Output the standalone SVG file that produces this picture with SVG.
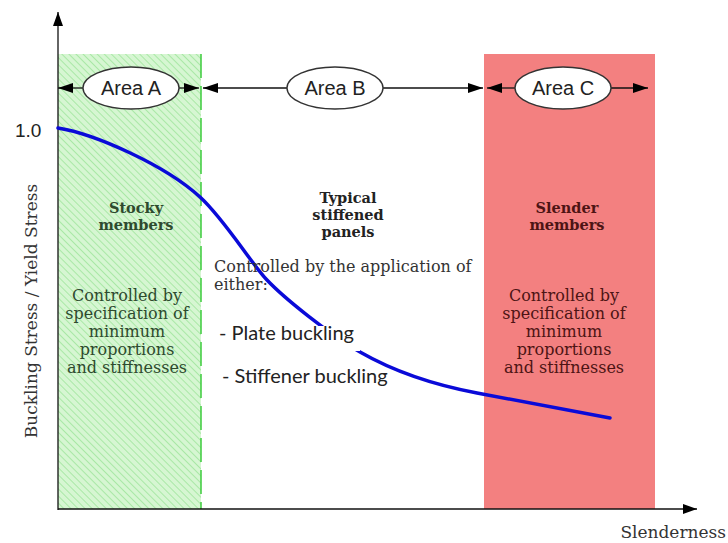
<svg xmlns="http://www.w3.org/2000/svg" width="728" height="543" viewBox="0 0 728 543">
<defs>
<pattern id="hatch" patternUnits="userSpaceOnUse" width="5" height="5" patternTransform="rotate(-45)">
<rect width="5" height="5" fill="#d6f6d2"/>
<line x1="0" y1="0" x2="0" y2="5" stroke="#a9e8a6" stroke-width="2"/>
</pattern>
<marker id="ah" viewBox="0 0 15 10" refX="15" refY="5" markerWidth="15" markerHeight="10" markerUnits="userSpaceOnUse" orient="auto">
<path d="M0,0 L15,5 L0,10 Z" fill="#000"/>
</marker>
<marker id="axh" viewBox="0 0 14 10" refX="14" refY="5" markerWidth="14" markerHeight="10" markerUnits="userSpaceOnUse" orient="auto">
<path d="M0,0 L14,5 L0,10 Z" fill="#000"/>
</marker>
</defs>
<style>
.ser{font-family:"DejaVu Serif","Liberation Serif",serif;font-size:16px;}
.b{font-weight:bold;font-size:14.5px;}
.area{font-family:"Liberation Sans",Arial,sans-serif;font-size:20px;fill:#222;}
.ell{fill:#fff;stroke:#333;stroke-width:1.4;}
.sans{font-family:Lato,"Open Sans",sans-serif;font-size:20px;fill:#222;}
.conn{stroke:#111;stroke-width:1.3;fill:none;}
.g{fill:#2e4a2e;}
.r{fill:#4d1414;}
</style>
<rect width="728" height="543" fill="#fff"/>
<g id="zoneA">
<rect x="58" y="54" width="143" height="455" fill="url(#hatch)"/>
<line x1="201" y1="54" x2="201" y2="509" stroke="#3ccc3c" stroke-width="1.5" stroke-dasharray="24,8"/>
</g>
<g id="zoneC">
<rect x="484" y="54" width="171" height="455" fill="#f38080"/>
</g>
<g id="axes">
<line x1="58" y1="510" x2="58" y2="12" class="conn" marker-end="url(#axh)"/>
<line x1="58" y1="509" x2="697" y2="509" class="conn" marker-end="url(#axh)"/>
<text x="15" y="137" font-family="Liberation Sans,Arial,sans-serif" font-size="19" fill="#222">1.0</text>
<text transform="translate(37,311) rotate(-90)" text-anchor="middle" class="ser" style="font-size:17px" fill="#333">Buckling Stress / Yield Stress</text>
<text x="726" y="538" text-anchor="end" class="ser" style="font-size:17px" fill="#333">Slenderness</text>
</g>
<g id="connectors">
<line x1="83" y1="88" x2="58" y2="88" class="conn" marker-end="url(#ah)"/>
<line x1="179" y1="88" x2="199" y2="88" class="conn" marker-end="url(#ah)"/>
<line x1="287" y1="88" x2="203" y2="88" class="conn" marker-end="url(#ah)"/>
<line x1="383" y1="88" x2="483" y2="88" class="conn" marker-end="url(#ah)"/>
<line x1="515" y1="88" x2="487" y2="88" class="conn" marker-end="url(#ah)"/>
<line x1="611" y1="88" x2="648" y2="88" class="conn" marker-end="url(#ah)"/>
</g>
<g id="areaA"><ellipse cx="131" cy="88" rx="48" ry="21" class="ell"/><text x="131" y="95" text-anchor="middle" class="area">Area A</text></g>
<g id="areaB"><ellipse cx="335" cy="88" rx="48" ry="21" class="ell"/><text x="335" y="95" text-anchor="middle" class="area">Area B</text></g>
<g id="areaC"><ellipse cx="563" cy="88" rx="48" ry="21" class="ell"/><text x="563" y="95" text-anchor="middle" class="area">Area C</text></g>
<g id="curve">
<path d="M58,128 C95,134 165,165 200,197 C225,220 250,262 267,280 C284,298 330,335 360,352 C400,375 440,386 477,393 C540,405 580,412 610,418" fill="none" stroke="#0a0ad8" stroke-width="3.5" stroke-linecap="round"/>
</g>
<g id="textA">
<text text-anchor="middle" class="ser b g"><tspan x="136" y="213">Stocky</tspan><tspan x="136" y="230">members</tspan></text>
<text text-anchor="middle" class="ser g"><tspan x="127" y="301">Controlled by</tspan><tspan x="127" y="319">specification of</tspan><tspan x="127" y="337">minimum</tspan><tspan x="127" y="355">proportions</tspan><tspan x="127" y="373">and stiffnesses</tspan></text>
</g>
<g id="textB">
<text text-anchor="middle" class="ser b" fill="#222"><tspan x="348" y="203">Typical</tspan><tspan x="348" y="220">stiffened</tspan><tspan x="348" y="237">panels</tspan></text>
<text class="ser" fill="#333"><tspan x="214" y="272">Controlled by the application of</tspan><tspan x="214" y="290">either:</tspan></text>
<rect x="214" y="326" width="146" height="25" fill="#fff"/>
<text x="219" y="340" class="sans">- Plate buckling</text>
<text x="222" y="383" class="sans">- Stiffener buckling</text>
</g>
<g id="textC">
<text text-anchor="middle" class="ser b r"><tspan x="567" y="213">Slender</tspan><tspan x="567" y="230">members</tspan></text>
<text text-anchor="middle" class="ser r"><tspan x="564" y="301">Controlled by</tspan><tspan x="564" y="319">specification of</tspan><tspan x="564" y="337">minimum</tspan><tspan x="564" y="355">proportions</tspan><tspan x="564" y="373">and stiffnesses</tspan></text>
</g>
</svg>
